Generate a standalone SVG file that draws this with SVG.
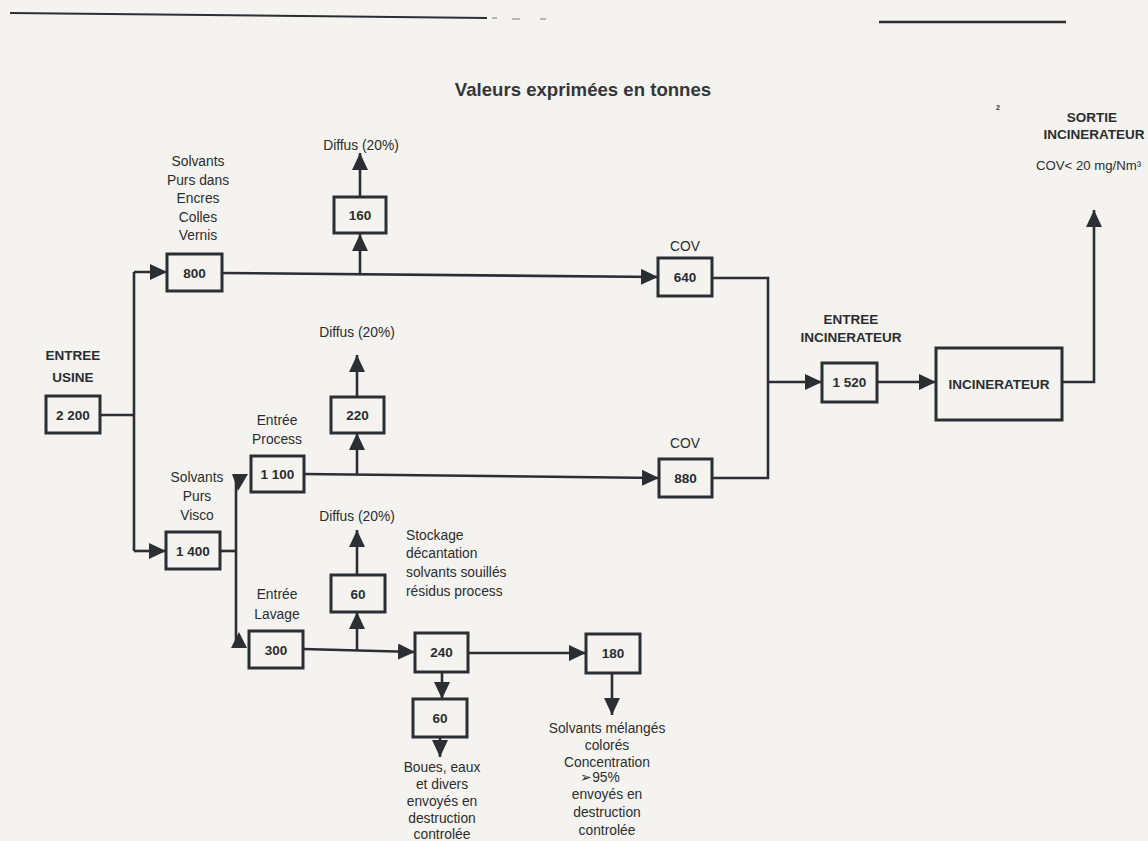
<svg xmlns="http://www.w3.org/2000/svg" width="1148" height="841" viewBox="0 0 1148 841">
<defs>
<style>
.bg{fill:#f5f3ef}
.box{fill:none;stroke:#2b2f33;stroke-width:3}
.ln{fill:none;stroke:#2b2f33;stroke-width:2.6}
.ah{fill:#2b2f33}
text{font-family:"Liberation Sans",Arial,sans-serif;fill:#2a2d30}
.num{font-size:13.5px;font-weight:bold;text-anchor:middle}
.lbl{font-size:13.8px;text-anchor:middle}
.lbll{font-size:13.8px;text-anchor:start}
.hd{font-size:13.5px;font-weight:bold;text-anchor:middle}
.title{font-size:18.6px;font-weight:bold;text-anchor:middle;fill:#33373b}
</style>
<marker id="arr" viewBox="0 0 17 16" refX="17" refY="8" markerWidth="17" markerHeight="16" markerUnits="userSpaceOnUse" orient="auto">
<path d="M0,0 L17,8 L0,16 Z" fill="#2b2f33"/>
</marker>
</defs>
<rect class="bg" x="0" y="0" width="1148" height="841"/>
<g id="page-lines">
<path d="M10,13 L487,18" stroke="#2b2f33" stroke-width="2" fill="none"/>
<path d="M492,18 H497 M512,19 H520 M540,19 H546" stroke="#7a7d80" stroke-width="1.2" fill="none"/>
<path d="M879,22 H1066" stroke="#2b2f33" stroke-width="2.6" fill="none"/>
</g>
<text class="title" x="583" y="96">Valeurs exprimées en tonnes</text>
<text x="996" y="110" style="font-size:7px;font-weight:bold">2</text>

<g id="connectors">
<path class="ln" d="M100,415 H134"/>
<path class="ln" d="M134,272 V551"/>
<path class="ln" d="M134,272 H167" marker-end="url(#arr)"/>
<path class="ln" d="M134,551 H166" marker-end="url(#arr)"/>
<path class="ln" d="M222,273 L658,277" marker-end="url(#arr)"/>
<path class="ln" d="M360,274 V234" marker-end="url(#arr)"/>
<path class="ln" d="M360,197 V153" marker-end="url(#arr)"/>
<path class="ln" d="M220,551 H236"/>
<path class="ln" d="M236,474 V648"/>
<polygon class="ah" points="232,474 248,474 238,491"/>
<polygon class="ah" points="239,632 231,648 247,648"/>
<path class="ln" d="M304,474 L659,478" marker-end="url(#arr)"/>
<path class="ln" d="M357,475 V433" marker-end="url(#arr)"/>
<path class="ln" d="M357,397 V355" marker-end="url(#arr)"/>
<path class="ln" d="M303,649 L415,652" marker-end="url(#arr)"/>
<path class="ln" d="M357,650 V612" marker-end="url(#arr)"/>
<path class="ln" d="M357,575 V530" marker-end="url(#arr)"/>
<path class="ln" d="M468,653 H586" marker-end="url(#arr)"/>
<path class="ln" d="M442,672 V699" marker-end="url(#arr)"/>
<path class="ln" d="M440,737 V757" marker-end="url(#arr)"/>
<path class="ln" d="M612,673 V715" marker-end="url(#arr)"/>
<path class="ln" d="M712,278 H768 V478 H712"/>
<path class="ln" d="M768,382 H822" marker-end="url(#arr)"/>
<path class="ln" d="M877,382 H936" marker-end="url(#arr)"/>
<path class="ln" d="M1062,382 H1094 V210" marker-end="url(#arr)"/>
</g>

<g id="entree-usine">
<text class="hd" x="73" y="360">ENTREE</text>
<text class="hd" x="73" y="382">USINE</text>
<rect class="box" x="46" y="396" width="54" height="37"/>
<text class="num" x="73" y="420">2 200</text>
</g>

<g id="n800">
<text class="lbl" x="198" y="166">Solvants</text>
<text class="lbl" x="198" y="185">Purs dans</text>
<text class="lbl" x="198" y="203">Encres</text>
<text class="lbl" x="198" y="222">Colles</text>
<text class="lbl" x="198" y="240">Vernis</text>
<rect class="box" x="167" y="254" width="55" height="37"/>
<text class="num" x="194.5" y="278">800</text>
</g>

<g id="n160">
<text class="lbl" x="361" y="150">Diffus (20%)</text>
<rect class="box" x="334" y="197" width="52" height="36"/>
<text class="num" x="360" y="220">160</text>
</g>

<g id="n640">
<text class="lbl" x="685" y="251">COV</text>
<rect class="box" x="658" y="258" width="54" height="38"/>
<text class="num" x="685" y="282">640</text>
</g>

<g id="n1400">
<text class="lbl" x="197" y="482">Solvants</text>
<text class="lbl" x="197" y="501">Purs</text>
<text class="lbl" x="197" y="520">Visco</text>
<rect class="box" x="166" y="532" width="54" height="37"/>
<text class="num" x="193" y="556">1 400</text>
</g>

<g id="n1100">
<text class="lbl" x="277" y="425">Entrée</text>
<text class="lbl" x="277" y="444">Process</text>
<rect class="box" x="251" y="456" width="53" height="36"/>
<text class="num" x="277.5" y="479">1 100</text>
</g>

<g id="n220">
<text class="lbl" x="357" y="337">Diffus (20%)</text>
<rect class="box" x="331" y="397" width="53" height="36"/>
<text class="num" x="357.5" y="420">220</text>
</g>

<g id="n880">
<text class="lbl" x="685" y="448">COV</text>
<rect class="box" x="659" y="459" width="53" height="38"/>
<text class="num" x="685.5" y="483">880</text>
</g>

<g id="n1520">
<text class="hd" x="851" y="324">ENTREE</text>
<text class="hd" x="851" y="342">INCINERATEUR</text>
<rect class="box" x="822" y="363" width="55" height="39"/>
<text class="num" x="849.5" y="387">1 520</text>
</g>

<g id="incinerateur">
<rect class="box" x="936" y="348" width="126" height="72"/>
<text class="hd" x="999" y="389">INCINERATEUR</text>
</g>

<g id="sortie">
<text class="hd" x="1092" y="122">SORTIE</text>
<text class="hd" x="1094" y="139">INCINERATEUR</text>
<text class="lbll" x="1036" y="170" style="font-size:13.2px">COV&lt; 20 mg/Nm³</text>
</g>

<g id="n300">
<text class="lbl" x="277" y="599">Entrée</text>
<text class="lbl" x="277" y="619">Lavage</text>
<rect class="box" x="249" y="631" width="54" height="37"/>
<text class="num" x="276" y="655">300</text>
</g>

<g id="n60a">
<text class="lbl" x="357" y="521">Diffus (20%)</text>
<rect class="box" x="331" y="575" width="54" height="37"/>
<text class="num" x="358" y="599">60</text>
<text class="lbll" x="406" y="540">Stockage</text>
<text class="lbll" x="406" y="558">décantation</text>
<text class="lbll" x="406" y="577">solvants souillés</text>
<text class="lbll" x="406" y="596">résidus process</text>
</g>

<g id="n240">
<rect class="box" x="415" y="633" width="53" height="39"/>
<text class="num" x="441.5" y="657">240</text>
</g>

<g id="n60b">
<rect class="box" x="413" y="699" width="54" height="38"/>
<text class="num" x="440" y="723">60</text>
<text class="lbl" x="442" y="772">Boues, eaux</text>
<text class="lbl" x="442" y="789">et divers</text>
<text class="lbl" x="442" y="806">envoyés en</text>
<text class="lbl" x="442" y="823">destruction</text>
<text class="lbl" x="442" y="839">controlée</text>
</g>

<g id="n180">
<rect class="box" x="586" y="634" width="54" height="39"/>
<text class="num" x="613" y="658">180</text>
<text class="lbl" x="607" y="733">Solvants mélangés</text>
<text class="lbl" x="607" y="750">colorés</text>
<text class="lbl" x="607" y="767">Concentration</text>
<text class="lbl" x="600" y="782">➢95%</text>
<text class="lbl" x="607" y="799">envoyés en</text>
<text class="lbl" x="607" y="817">destruction</text>
<text class="lbl" x="607" y="835">controlée</text>
</g>
</svg>
